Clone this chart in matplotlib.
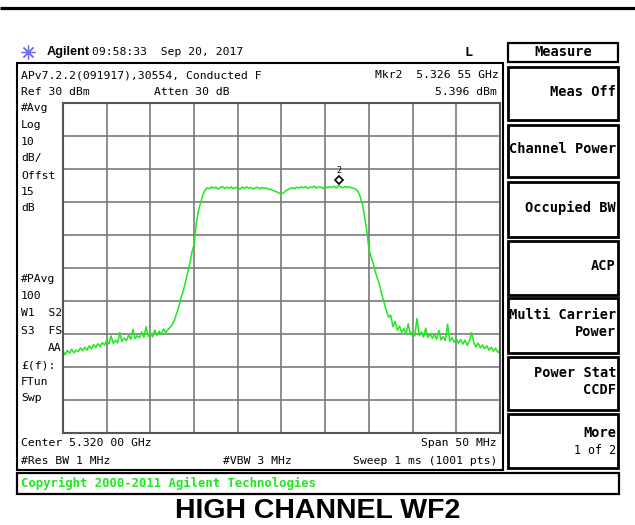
import matplotlib
matplotlib.use("Agg")
import matplotlib.pyplot as plt
import matplotlib.transforms as mtransforms
from matplotlib.patches import Rectangle
import numpy as np

# --- instrument settings ---
ref_level = 30.0      # dBm, top of graticule
db_per_div = 10.0
center_mhz = 5320.0
span_mhz = 50.0
freq_step = 0.25      # MHz between stored trace points

# averaged trace, dBm, from 5295 MHz to 5345 MHz
trace_dbm = [
    -45.2, -46.3, -45.0, -45.8, -44.6, -45.7, -44.9, -45.3, -44.2, -45.1,
    -44.0, -44.9, -43.6, -44.5, -43.2, -44.1, -42.9, -43.9, -42.6, -43.4,
    -41.8, -43.0, -40.6, -42.8, -41.9, -42.7, -39.5, -42.3, -41.2, -42.0,
    -40.4, -41.6, -38.6, -41.4, -40.5, -41.2, -39.4, -41.0, -37.8, -40.7,
    -39.6, -40.9, -38.8, -40.4, -39.2, -40.1, -38.5, -39.6, -38.7, -38.0,
    -37.2, -35.8, -33.8, -31.8, -29.0, -27.0, -24.5, -21.5, -18.8, -15.2,
    -12.8, -6.5, -2.6, -0.2, 2.2, 3.6, 4.3, 4.0, 4.6, 4.2,
    4.5, 3.9, 4.4, 4.7, 4.1, 4.5, 4.2, 4.6, 4.0, 4.4,
    4.3, 3.9, 4.5, 4.1, 4.6, 4.2, 4.4, 3.9, 4.3, 4.5,
    4.0, 4.4, 4.1, 4.3, 3.8, 3.9, 3.5, 3.3, 3.0, 2.7,
    2.4, 2.8, 3.4, 3.8, 4.1, 4.3, 4.0, 4.5, 4.2, 4.6,
    4.3, 4.7, 4.1, 4.5, 4.4, 4.8, 4.2, 4.6, 4.5, 4.1,
    4.7, 4.3, 4.6, 4.4, 4.8, 4.2, 5.0, 4.6, 4.3, 4.7,
    4.4, 4.6, 4.3, 4.2, 3.9, 3.2, 1.6, -0.6, -4.4, -8.5,
    -14.2, -16.6, -18.6, -21.3, -23.4, -25.5, -28.2, -30.6, -33.0, -34.9,
    -34.3, -37.8, -36.2, -38.9, -37.6, -39.5, -38.4, -40.0, -36.9, -40.2,
    -39.3, -40.6, -35.3, -40.5, -39.4, -40.9, -38.2, -41.1, -39.8, -41.3,
    -40.2, -41.6, -38.9, -41.8, -40.8, -42.0, -37.0, -42.2, -41.0, -42.5,
    -41.4, -42.8, -41.7, -43.1, -41.9, -43.4, -42.1, -39.6, -42.6, -43.9,
    -42.8, -44.2, -43.3, -44.5, -43.6, -44.9, -44.0, -45.2, -44.3, -45.6,
    -44.9,
]

mkr_freq = 5326.55    # MHz
mkr_dbm = 5.396

softkeys = ["Meas Off", "Channel Power", "Occupied BW", "ACP",
            "Multi Carrier\nPower", "Power Stat\nCCDF", "More"]
softkey_tops = [67, 125, 182, 241, 298, 357, 414]
softkey_bottoms = [120, 177, 237, 295, 353, 410, 468]

side_labels = ["#Avg", "Log", "10", "dB/", "Offst", "15", "dB",
               "#PAvg", "100", "W1  S2", "S3  FS", "£(f):", "FTun", "Swp"]
side_y = [108, 125, 142, 158, 176, 192, 208, 279, 296, 313, 331, 365, 382, 398]

freq_mhz = center_mhz - span_mhz / 2 + freq_step * np.arange(len(trace_dbm))


def ghz_text(mhz):
    s = "%.5f" % (mhz / 1000)
    return s[:5] + " " + s[5:]


MONO = "DejaVu Sans Mono"
GREEN = "#1ee81e"
FS = 8.2

fig = plt.figure(figsize=(6.35, 5.25), dpi=100)
fig.patch.set_facecolor("white")

# pixel-space canvas for the frames and annotations
bg = fig.add_axes([0, 0, 1, 1])
bg.set_xlim(0, 635)
bg.set_ylim(525, 0)
bg.axis("off")

bg.plot([0, 635], [7.5, 7.5], color="black", lw=2.3, solid_capstyle="butt")

# header line
bg.plot(28, 52, marker=(8, 2, 0), ms=10, mew=0.9, color="#6b6bff")
bg.plot(28, 52, marker="o", ms=2.5, color="#6b6bff")
bg.text(47, 52, "Agilent", fontsize=9.2, fontweight="bold", family="Liberation Sans",
        va="center", ha="left")
bg.text(92, 52, "09:58:33  Sep 20, 2017", fontsize=FS, family=MONO,
        va="center", ha="left")
bg.text(468, 52, "L", fontsize=9.5, fontweight="bold", family=MONO,
        va="center", ha="center")

# softkey panel
bg.add_patch(Rectangle((508, 43), 110, 19, fill=False, lw=1.6, ec="black"))
bg.text(563, 52.5, "Measure", fontsize=9.8, fontweight="bold", family=MONO,
        va="center", ha="center")
for label, top, bot in zip(softkeys, softkey_tops, softkey_bottoms):
    bg.add_patch(Rectangle((508, top), 110, bot - top, fill=False, lw=2.0, ec="black"))
    y = 433 if label == "More" else (top + bot) / 2 - 2
    bg.text(616, y, label, fontsize=9.8, fontweight="bold",
            family=MONO, va="center", ha="right", linespacing=1.25)
bg.text(616, 450, "1 of 2", fontsize=8.4, family=MONO, va="center", ha="right")

# main screen frame
bg.add_patch(Rectangle((17, 63), 486, 407, fill=False, lw=1.5, ec="black"))
bg.text(21, 75, "APv7.2.2(091917),30554, Conducted F", fontsize=FS, family=MONO,
        va="center", ha="left")
bg.text(21, 92, "Ref %d dBm" % ref_level, fontsize=FS, family=MONO, va="center", ha="left")
bg.text(154, 92, "Atten 30 dB", fontsize=FS, family=MONO, va="center", ha="left")
bg.text(499, 75, "Mkr2  %s GHz" % ghz_text(mkr_freq), fontsize=FS,
        family=MONO, va="center", ha="right")
bg.text(497, 92, "%.3f dBm" % mkr_dbm, fontsize=FS, family=MONO,
        va="center", ha="right")
for label, y in zip(side_labels, side_y):
    bg.text(21, y, label, fontsize=FS, family=MONO, va="center", ha="left")
bg.text(62, 348, "AA", fontsize=FS, family=MONO, va="center", ha="right")

bg.text(21, 443, "Center %s GHz" % ghz_text(center_mhz), fontsize=FS,
        family=MONO, va="center", ha="left")
bg.text(497, 443, "Span %d MHz" % span_mhz, fontsize=FS, family=MONO,
        va="center", ha="right")
bg.text(21, 461, "#Res BW 1 MHz", fontsize=FS, family=MONO, va="center", ha="left")
bg.text(223, 461, "#VBW 3 MHz", fontsize=FS, family=MONO, va="center", ha="left")
bg.text(497, 461, "Sweep 1 ms (1001 pts)", fontsize=FS, family=MONO,
        va="center", ha="right")

# copyright strip
bg.add_patch(Rectangle((17, 473), 602, 21, fill=False, lw=1.6, ec="black"))
bg.text(21, 483.5, "Copyright 2000-2011 Agilent Technologies", fontsize=8.8,
        fontweight="bold", family=MONO, color=GREEN, va="center", ha="left")

bg.text(318, 511, "HIGH CHANNEL WF2", fontsize=20.5, fontweight="bold",
        family="Liberation Sans", va="center", ha="center")

# graticule: 10 x 10 divisions
ax = fig.add_axes([63 / 635, (525 - 433) / 525, 437 / 635, 330 / 525])
f_lo = center_mhz - span_mhz / 2
f_hi = center_mhz + span_mhz / 2
ax.set_xlim(f_lo, f_hi)
ax.set_ylim(ref_level - 10 * db_per_div, ref_level)
ax.set_xticks(np.linspace(f_lo, f_hi, 11))
ax.set_yticks(np.linspace(ref_level - 10 * db_per_div, ref_level, 11))
ax.tick_params(length=0, labelbottom=False, labelleft=False)
ax.grid(True, color="#7a7a7a", lw=1.2)
ax.set_axisbelow(True)
for sp in ax.spines.values():
    sp.set_color("#555555")
    sp.set_linewidth(1.5)

ax.plot(freq_mhz, trace_dbm, color=GREEN, lw=1.1)

# marker 2, drawn just above the trace point
lift = mtransforms.ScaledTranslation(0, 4 / 100, fig.dpi_scale_trans)
ax.plot(mkr_freq, mkr_dbm, marker="D", ms=4.5, mfc="white", mec="black", mew=1.2,
        transform=ax.transData + lift, clip_on=False)
ax.text(mkr_freq, mkr_dbm, "2", fontsize=6, family=MONO, ha="center", va="bottom",
        transform=ax.transData + mtransforms.ScaledTranslation(0, 9 / 100, fig.dpi_scale_trans))

fig.savefig("out.png", dpi=100, facecolor="white")
